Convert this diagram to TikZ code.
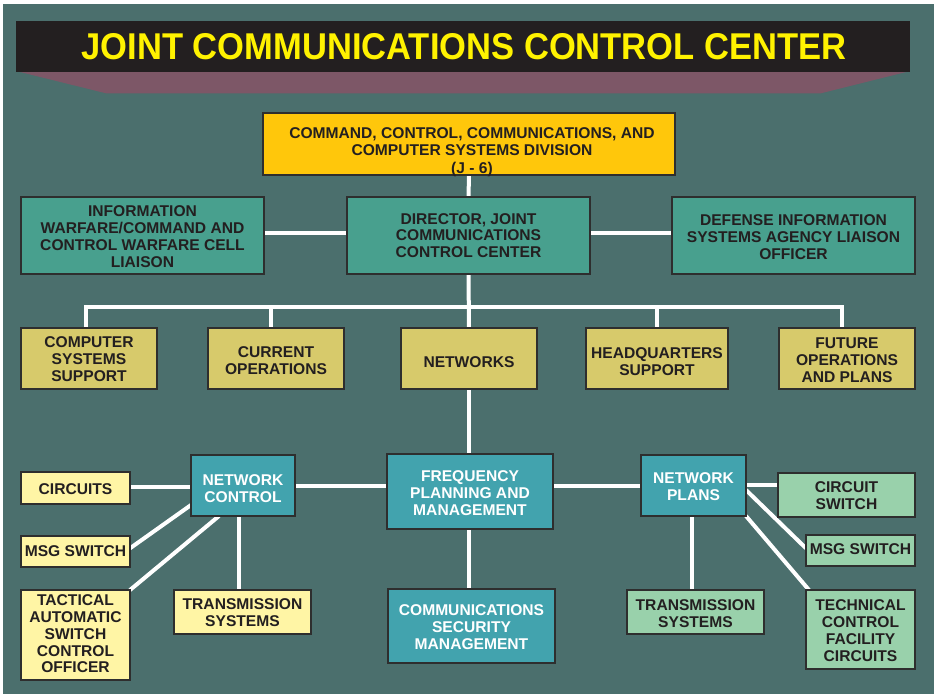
\documentclass[tikz,border=0pt]{standalone}
\usepackage{fontspec}
\setmainfont{Liberation Sans}
\usepackage{graphicx}
\usetikzlibrary{calc}
\definecolor{bgteal}{HTML}{4B6F6D}
\definecolor{barblack}{HTML}{231F20}
\definecolor{mauve}{HTML}{7D5767}
\definecolor{titleyellow}{HTML}{FFF200}
\definecolor{jsix}{HTML}{FFC70B}
\definecolor{seagreen}{HTML}{48A08E}
\definecolor{olive}{HTML}{D7CA6B}
\definecolor{cyanteal}{HTML}{42A3AE}
\definecolor{paleyellow}{HTML}{FFF5A5}
\definecolor{palegreen}{HTML}{99D1AB}
\definecolor{boxline}{HTML}{2E2E2E}
\definecolor{ink}{HTML}{231F20}
\pgfdeclarelayer{back}
\pgfdeclarelayer{links}
\pgfsetlayers{back,links,main}
\begin{document}
\begin{tikzpicture}[x=1pt,y=-1pt,
  box/.style={draw=boxline, line width=1.2pt, inner sep=0pt, outer sep=0pt},
  lbl/.style={font=\bfseries\fontsize{15.6}{16.8}\selectfont, align=center, inner sep=0pt, text=ink},
  wlbl/.style={lbl, text=white},
  conn/.style={draw=white, line width=4pt}]
\useasboundingbox (0,0) rectangle (934,694);
\begin{pgfonlayer}{back}
  \fill[white] (0,0) rectangle (934,694);
  \fill[bgteal] (3,4) rectangle (934,694);
  \fill[mauve] (16,71) -- (910,71) -- (821,93.3) -- (106,93.3) -- cycle;
\end{pgfonlayer}
% title
\node[fill=barblack, minimum width=894pt, minimum height=51pt, inner sep=0pt, outer sep=0pt] (titlebar) at (463,46.2) {};
\node[font=\bfseries\fontsize{37.3}{40}\selectfont, text=titleyellow, inner sep=0pt] (title) at (464,46.7)
  {\scalebox{0.926}[1]{JOINT COMMUNICATIONS CONTROL CENTER}};
% boxes
\node[box, fill=jsix, minimum width=412pt, minimum height=62pt] (j6) at (469,144) {};
\node[lbl, font=\bfseries\fontsize{15.6}{17.8}\selectfont] (j6t) at (472,152) {COMMAND, CONTROL, COMMUNICATIONS, AND\\COMPUTER SYSTEMS DIVISION\\(J - 6)};
\node[box, fill=seagreen, minimum width=243pt, minimum height=77pt] (iw) at (142.5,235.5) {};
\node[lbl] (iwt) at (142.5,236.7) {INFORMATION\\WARFARE/COMMAND AND\\CONTROL WARFARE CELL\\LIAISON};
\node[box, fill=seagreen, minimum width=243pt, minimum height=77pt] (dir) at (468.5,235.5) {};
\node[lbl] (dirt) at (468.5,235.5) {DIRECTOR, JOINT\\COMMUNICATIONS\\CONTROL CENTER};
\node[box, fill=seagreen, minimum width=243pt, minimum height=77pt] (disa) at (793.5,235.5) {};
\node[lbl] (disat) at (793.5,237) {DEFENSE INFORMATION\\SYSTEMS AGENCY LIAISON\\OFFICER};
\node[box, fill=olive, minimum width=136pt, minimum height=61pt] (css) at (89,358.5) {};
\node[lbl] (csst) at (89,359.3) {COMPUTER\\SYSTEMS\\SUPPORT};
\node[box, fill=olive, minimum width=136pt, minimum height=61pt] (cur) at (276,358.5) {};
\node[lbl] (curt) at (276,361) {CURRENT\\OPERATIONS};
\node[box, fill=olive, minimum width=136pt, minimum height=61pt] (net) at (469,358.5) {};
\node[lbl] (nett) at (469,362) {NETWORKS};
\node[box, fill=olive, minimum width=142pt, minimum height=61pt] (hq) at (657,358.5) {};
\node[lbl] (hqt) at (657,362) {HEADQUARTERS\\SUPPORT};
\node[box, fill=olive, minimum width=136pt, minimum height=61pt] (fut) at (847,358.5) {};
\node[lbl] (futt) at (847,360) {FUTURE\\OPERATIONS\\AND PLANS};
\node[box, fill=cyanteal, minimum width=104pt, minimum height=61pt] (nc) at (243,485.5) {};
\node[wlbl] (nct) at (243,489) {NETWORK\\CONTROL};
\node[box, fill=paleyellow, minimum width=109pt, minimum height=32pt] (circ) at (75.5,488) {};
\node[lbl] (circt) at (75.5,488.7) {CIRCUITS};
\node[box, fill=paleyellow, minimum width=109pt, minimum height=31pt] (msgl) at (75.5,551.5) {};
\node[lbl] (msglt) at (75.5,551) {MSG SWITCH};
\node[box, fill=paleyellow, minimum width=109pt, minimum height=90pt] (tasco) at (75.5,635) {};
\node[lbl] (tascot) at (75.5,634) {TACTICAL\\AUTOMATIC\\SWITCH\\CONTROL\\OFFICER};
\node[box, fill=paleyellow, minimum width=137pt, minimum height=44pt] (transl) at (242.5,612) {};
\node[lbl] (translt) at (242.5,613) {TRANSMISSION\\SYSTEMS};
\node[box, fill=cyanteal, minimum width=166pt, minimum height=75pt] (freq) at (470,491.5) {};
\node[wlbl] (freqt) at (470,493.3) {FREQUENCY\\PLANNING AND\\MANAGEMENT};
\node[box, fill=cyanteal, minimum width=167pt, minimum height=74pt] (comsec) at (471.5,626) {};
\node[wlbl] (comsect) at (471.5,627.3) {COMMUNICATIONS\\SECURITY\\MANAGEMENT};
\node[box, fill=cyanteal, minimum width=105pt, minimum height=61pt] (np) at (693.5,485.5) {};
\node[wlbl] (npt) at (693.5,486.7) {NETWORK\\PLANS};
\node[box, fill=palegreen, minimum width=137pt, minimum height=44pt] (cs) at (846.5,495) {};
\node[lbl] (cst) at (846.5,496) {CIRCUIT\\SWITCH};
\node[box, fill=palegreen, minimum width=109pt, minimum height=31pt] (msgr) at (860.5,550.5) {};
\node[lbl] (msgrt) at (860.5,549.3) {MSG SWITCH};
\node[box, fill=palegreen, minimum width=109pt, minimum height=79pt] (tcf) at (860.5,629.5) {};
\node[lbl] (tcft) at (860.5,630.8) {TECHNICAL\\CONTROL\\FACILITY\\CIRCUITS};
\node[box, fill=palegreen, minimum width=137pt, minimum height=44pt] (transr) at (695.5,612) {};
\node[lbl] (transrt) at (695.5,613.3) {TRANSMISSION\\SYSTEMS};
% bus coordinates
\coordinate (busL) at (86,307);
\coordinate (busR) at (842,307);
\coordinate (busC) at (271,307);
\coordinate (busH) at (657,307);
\begin{pgfonlayer}{links}
  \draw[conn] (j6.south) -- (dir.north);
  \draw[conn] ([yshift=2.5pt]iw.east) -- ([yshift=2.5pt]dir.west);
  \draw[conn] ([yshift=2.5pt]dir.east) -- ([yshift=2.5pt]disa.west);
  \draw[conn] (dir.south) -- (net.north);
  \draw[conn, line cap=rect] (css.north -| busL) -- (busL) -- (busR) -- (fut.north -| busR);
  \draw[conn] (busC) -- (cur.north -| busC);
  \draw[conn] (busH) -- (hq.north -| busH);
  \draw[conn] (net.south) -- (freq.north -| net.south);
  \draw[conn] (nc.east) -- (nc.east -| freq.west);
  \draw[conn] (np.west -| freq.east) -- (np.west);
  \draw[conn] (freq.south -| net.south) -- (comsec.north -| net.south);
  \draw[conn] ([yshift=0.7pt]circ.east) -- ([yshift=0.7pt]circ.east -| nc.west);
  \draw[conn] ([yshift=3.2pt]msgl.east) -- ([yshift=-19.5pt]nc.west);
  \draw[conn] (tasco.north east) -- ([xshift=-24pt]nc.south);
  \draw[conn] ([xshift=-4pt]nc.south) -- ([xshift=-4pt]nc.south |- transl.north);
  \draw[conn] ([yshift=0.2pt]np.east) -- ([yshift=0.2pt]np.east -| cs.west);
  \draw[conn] ([yshift=-4.5pt]np.east) -- ([yshift=2.2pt]msgr.west);
  \draw[conn] (np.south east) -- ([xshift=3pt]tcf.north west);
  \draw[conn] ([xshift=-2pt]np.south) -- ([xshift=-2pt]np.south |- transr.north);
\end{pgfonlayer}
\end{tikzpicture}
\end{document}
